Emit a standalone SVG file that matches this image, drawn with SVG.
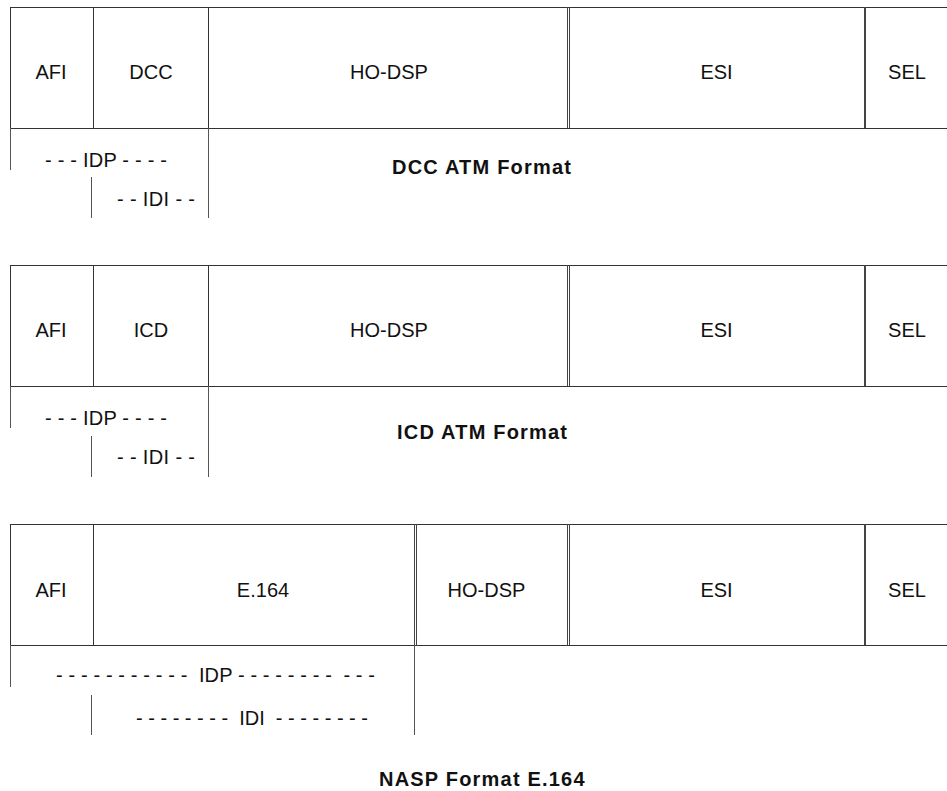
<svg xmlns="http://www.w3.org/2000/svg" width="947" height="791" viewBox="0 0 947 791">
<style>
.ln{stroke:#333;stroke-width:1;fill:none}
.dbl{stroke:#444;stroke-width:1;fill:none}
.thk{stroke:#444;stroke-width:2;fill:none}
.br{stroke:#555;stroke-width:1;fill:none}
.t{font-family:"Liberation Sans",Arial,sans-serif;font-size:20px;fill:#111;text-anchor:middle}
.d{font-family:"Liberation Sans",Arial,sans-serif;font-size:20px;fill:#111;white-space:pre}
.h{font-family:"Liberation Sans",Arial,sans-serif;font-size:20px;font-weight:bold;fill:#111;letter-spacing:1.2px}
</style>
<rect width="947" height="791" fill="#fff"/>

<!-- Section 1: DCC ATM Format -->
<g id="dcc-format">
  <line class="ln" x1="10" y1="7.5" x2="947" y2="7.5"/>
  <line class="ln" x1="10" y1="128.5" x2="947" y2="128.5"/>
  <g id="dcc-afi"><line class="ln" x1="10.5" y1="7" x2="10.5" y2="128"/><text class="t" x="51" y="79">AFI</text></g>
  <g id="dcc-dcc"><line class="ln" x1="93.5" y1="7" x2="93.5" y2="128"/><text class="t" x="151" y="79">DCC</text></g>
  <g id="dcc-hodsp"><line class="ln" x1="208.5" y1="7" x2="208.5" y2="128"/><text class="t" x="389" y="79">HO-DSP</text></g>
  <g id="dcc-esi"><line class="dbl" x1="567.5" y1="7" x2="567.5" y2="128"/><line class="dbl" x1="569.5" y1="7" x2="569.5" y2="128"/><text class="t" x="716.5" y="79">ESI</text></g>
  <g id="dcc-sel"><line class="thk" x1="865" y1="7" x2="865" y2="128"/><text class="t" x="907" y="79">SEL</text></g>
  <g id="dcc-idp"><text class="d" x="45" y="167" textLength="122" lengthAdjust="spacing">- - - IDP - - - -</text></g>
  <g id="dcc-idi"><text class="d" x="117" y="206" textLength="78" lengthAdjust="spacing">- - IDI - -</text></g>
  <text class="h" x="392" y="174">DCC ATM Format</text>
</g>

<!-- Section 2: ICD ATM Format -->
<g id="icd-format">
  <line class="ln" x1="10" y1="265.5" x2="947" y2="265.5"/>
  <line class="ln" x1="10" y1="386.5" x2="947" y2="386.5"/>
  <g id="icd-afi"><line class="ln" x1="10.5" y1="265" x2="10.5" y2="386"/><text class="t" x="51" y="337">AFI</text></g>
  <g id="icd-icd"><line class="ln" x1="93.5" y1="265" x2="93.5" y2="386"/><text class="t" x="151" y="337">ICD</text></g>
  <g id="icd-hodsp"><line class="ln" x1="208.5" y1="265" x2="208.5" y2="386"/><text class="t" x="389" y="337">HO-DSP</text></g>
  <g id="icd-esi"><line class="dbl" x1="567.5" y1="265" x2="567.5" y2="386"/><line class="dbl" x1="569.5" y1="265" x2="569.5" y2="386"/><text class="t" x="716.5" y="337">ESI</text></g>
  <g id="icd-sel"><line class="thk" x1="865" y1="265" x2="865" y2="386"/><text class="t" x="907" y="337">SEL</text></g>
  <g id="icd-idp"><text class="d" x="45" y="425" textLength="122" lengthAdjust="spacing">- - - IDP - - - -</text></g>
  <g id="icd-idi"><text class="d" x="117" y="464" textLength="78" lengthAdjust="spacing">- - IDI - -</text></g>
  <text class="h" x="397" y="439">ICD ATM Format</text>
</g>

<!-- Section 3: NASP Format E.164 -->
<g id="nasp-format">
  <line class="ln" x1="10" y1="524.5" x2="947" y2="524.5"/>
  <line class="ln" x1="10" y1="645.5" x2="947" y2="645.5"/>
  <g id="nasp-afi"><line class="ln" x1="10.5" y1="524" x2="10.5" y2="645"/><text class="t" x="51" y="597">AFI</text></g>
  <g id="nasp-e164"><line class="ln" x1="93.5" y1="524" x2="93.5" y2="645"/><text class="t" x="263" y="597">E.164</text></g>
  <g id="nasp-hodsp"><line class="dbl" x1="414.5" y1="524" x2="414.5" y2="645"/><line class="dbl" x1="416.5" y1="524" x2="416.5" y2="645"/><text class="t" x="486.5" y="597">HO-DSP</text></g>
  <g id="nasp-esi"><line class="dbl" x1="567.5" y1="524" x2="567.5" y2="645"/><line class="dbl" x1="569.5" y1="524" x2="569.5" y2="645"/><text class="t" x="716.5" y="597">ESI</text></g>
  <g id="nasp-sel"><line class="thk" x1="865" y1="524" x2="865" y2="645"/><text class="t" x="907" y="597">SEL</text></g>
  <g id="nasp-idp"><text class="d" x="56" y="682" textLength="319" lengthAdjust="spacing">- - - - - - - - - - -  IDP - - - - - - - -  - - -</text></g>
  <g id="nasp-idi"><text class="d" x="136" y="725" textLength="232" lengthAdjust="spacing">- - - - - - - -  IDI  - - - - - - - -</text></g>
  <text class="h" x="379" y="786">NASP Format E.164</text>
</g>

<!-- Bracket lines -->
<g id="connectors">
  <line class="br" x1="10.5" y1="128" x2="10.5" y2="170"/>
  <line class="br" x1="91.5" y1="177" x2="91.5" y2="218"/>
  <line class="br" x1="208.5" y1="128" x2="208.5" y2="218"/>
  <line class="br" x1="10.5" y1="386" x2="10.5" y2="428"/>
  <line class="br" x1="91.5" y1="436" x2="91.5" y2="477"/>
  <line class="br" x1="208.5" y1="386" x2="208.5" y2="477"/>
  <line class="br" x1="10.5" y1="645" x2="10.5" y2="687"/>
  <line class="br" x1="91.5" y1="695" x2="91.5" y2="735"/>
  <line class="br" x1="414.5" y1="645" x2="414.5" y2="735"/>
</g>
</svg>
